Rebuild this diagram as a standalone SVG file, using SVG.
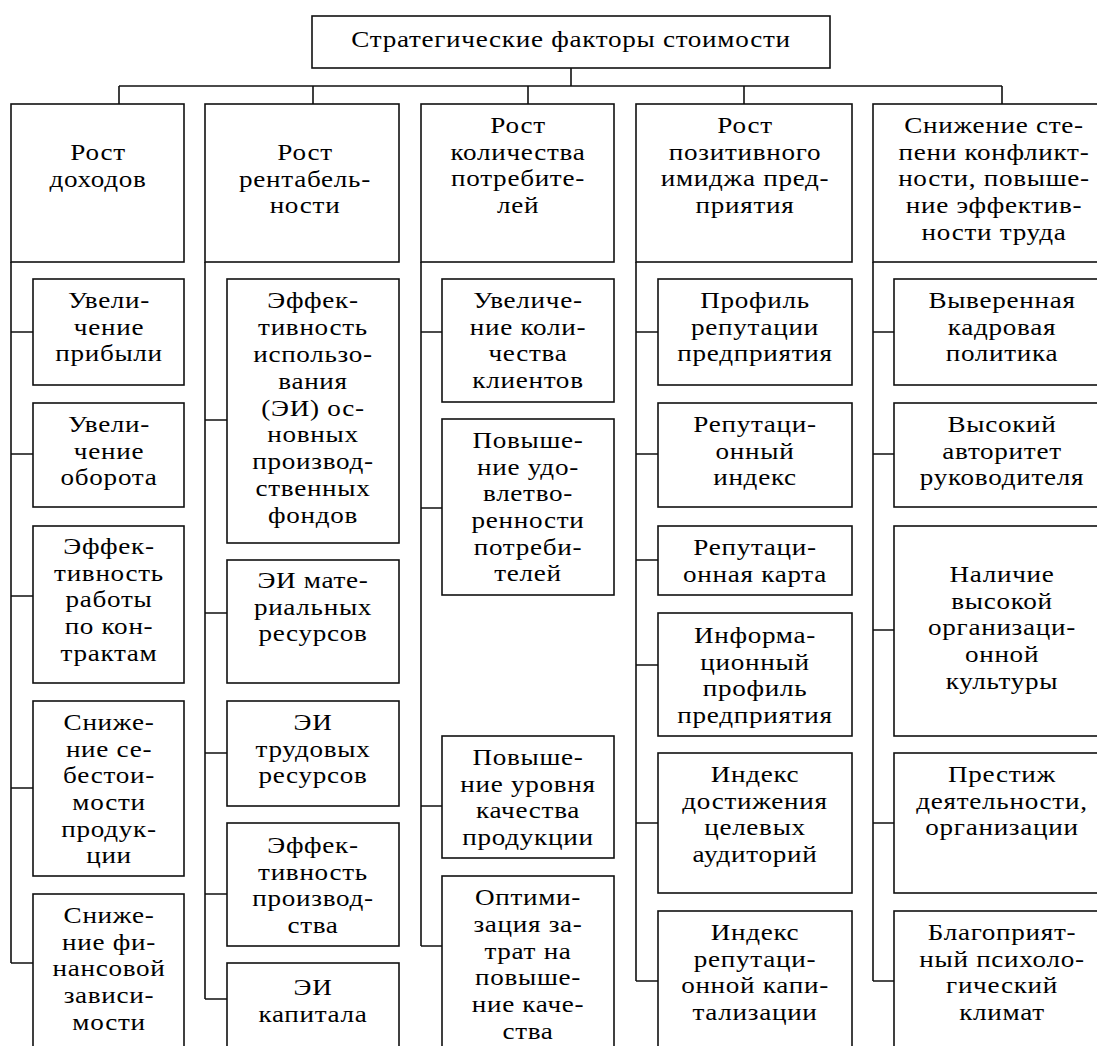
<svg xmlns="http://www.w3.org/2000/svg" width="1097" height="1046" viewBox="0 0 1097 1046">
<style>
.box{fill:#fff;stroke:#111;stroke-width:1.6}
.conn{fill:none;stroke:#111;stroke-width:1.6}
text{font-family:"Liberation Serif","Times New Roman",serif;font-size:23px;letter-spacing:0.6px;text-anchor:middle;fill:#000}
</style>
<rect x="0" y="0" width="1097" height="1046" fill="#fff"/>
<g id="connectors">
<path class="conn" d="M571,68V86M119,86H1002M119,86V104M313,86V104M528,86V104M744,86V104M1002,86V104"/>
<path class="conn" d="M11,262V963M11,332H33M11,454H33M11,596H33M11,788H33M11,963H33"/>
<path class="conn" d="M205,262V999M205,420H227M205,613H227M205,753H227M205,894H227M205,999H227"/>
<path class="conn" d="M421,262V946M421,332H442M421,508H442M421,806H442M421,946H442"/>
<path class="conn" d="M636,262V981M636,332H658M636,454H658M636,560H658M636,665H658M636,823H658M636,981H658"/>
<path class="conn" d="M873,262V981M873,332H894M873,454H894M873,630H894M873,823H894M873,981H894"/>
</g>
<g id="root"><rect class="box" x="312" y="16" width="518" height="52"/><text transform="matrix(1.18 0 0 1 571 0)" x="0" y="47">Стратегические факторы стоимости</text></g>
<g id="h1"><rect class="box" x="11" y="104" width="173" height="158"/><text transform="matrix(1.18 0 0 1 98 0)" y="160"><tspan x="0">Рост</tspan><tspan x="0" dy="27">доходов</tspan></text></g>
<g id="h2"><rect class="box" x="205" y="104" width="194" height="158"/><text transform="matrix(1.18 0 0 1 305 0)" y="160"><tspan x="0">Рост</tspan><tspan x="0" dy="26.7">рентабель-</tspan><tspan x="0" dy="26.7">ности</tspan></text></g>
<g id="h3"><rect class="box" x="421" y="104" width="193" height="158"/><text transform="matrix(1.18 0 0 1 518 0)" y="133"><tspan x="0">Рост</tspan><tspan x="0" dy="26.7">количества</tspan><tspan x="0" dy="26.7">потребите-</tspan><tspan x="0" dy="26.7">лей</tspan></text></g>
<g id="h4"><rect class="box" x="636" y="104" width="216" height="158"/><text transform="matrix(1.18 0 0 1 745 0)" y="133"><tspan x="0">Рост</tspan><tspan x="0" dy="26.7">позитивного</tspan><tspan x="0" dy="26.7">имиджа пред-</tspan><tspan x="0" dy="26.7">приятия</tspan></text></g>
<g id="h5"><rect class="box" x="873" y="104" width="240" height="158"/><text transform="matrix(1.18 0 0 1 994 0)" y="133"><tspan x="0">Снижение сте-</tspan><tspan x="0" dy="26.7">пени конфликт-</tspan><tspan x="0" dy="26.7">ности, повыше-</tspan><tspan x="0" dy="26.7">ние эффектив-</tspan><tspan x="0" dy="26.7">ности труда</tspan></text></g>

<g id="c1"><rect class="box" x="33" y="279" width="151" height="106"/><text transform="matrix(1.18 0 0 1 109 0)" y="308"><tspan x="0">Увели-</tspan><tspan x="0" dy="26.7">чение</tspan><tspan x="0" dy="26.7">прибыли</tspan></text></g>
<g id="c2"><rect class="box" x="33" y="403" width="151" height="104"/><text transform="matrix(1.18 0 0 1 109 0)" y="432"><tspan x="0">Увели-</tspan><tspan x="0" dy="26.7">чение</tspan><tspan x="0" dy="26.7">оборота</tspan></text></g>
<g id="c3"><rect class="box" x="33" y="526" width="151" height="157"/><text transform="matrix(1.18 0 0 1 109 0)" y="554"><tspan x="0">Эффек-</tspan><tspan x="0" dy="26.7">тивность</tspan><tspan x="0" dy="26.7">работы</tspan><tspan x="0" dy="26.7">по кон-</tspan><tspan x="0" dy="26.7">трактам</tspan></text></g>
<g id="c4"><rect class="box" x="33" y="701" width="151" height="175"/><text transform="matrix(1.18 0 0 1 109 0)" y="730"><tspan x="0">Сниже-</tspan><tspan x="0" dy="26.7">ние се-</tspan><tspan x="0" dy="26.7">бестои-</tspan><tspan x="0" dy="26.7">мости</tspan><tspan x="0" dy="26.7">продук-</tspan><tspan x="0" dy="26.7">ции</tspan></text></g>
<g id="c5"><rect class="box" x="33" y="894" width="151" height="170"/><text transform="matrix(1.18 0 0 1 109 0)" y="923"><tspan x="0">Сниже-</tspan><tspan x="0" dy="26.7">ние фи-</tspan><tspan x="0" dy="26.7">нансовой</tspan><tspan x="0" dy="26.7">зависи-</tspan><tspan x="0" dy="26.7">мости</tspan></text></g>

<g id="d1"><rect class="box" x="227" y="279" width="172" height="264"/><text transform="matrix(1.18 0 0 1 313 0)" y="308"><tspan x="0">Эффек-</tspan><tspan x="0" dy="26.9">тивность</tspan><tspan x="0" dy="26.9">использо-</tspan><tspan x="0" dy="26.9">вания</tspan><tspan x="0" dy="26.9">(ЭИ) ос-</tspan><tspan x="0" dy="26.9">новных</tspan><tspan x="0" dy="26.9">производ-</tspan><tspan x="0" dy="26.9">ственных</tspan><tspan x="0" dy="26.9">фондов</tspan></text></g>
<g id="d2"><rect class="box" x="227" y="560" width="172" height="123"/><text transform="matrix(1.18 0 0 1 313 0)" y="588"><tspan x="0">ЭИ мате-</tspan><tspan x="0" dy="26.7">риальных</tspan><tspan x="0" dy="26.7">ресурсов</tspan></text></g>
<g id="d3"><rect class="box" x="227" y="701" width="172" height="105"/><text transform="matrix(1.18 0 0 1 313 0)" y="730"><tspan x="0">ЭИ</tspan><tspan x="0" dy="26.7">трудовых</tspan><tspan x="0" dy="26.7">ресурсов</tspan></text></g>
<g id="d4"><rect class="box" x="227" y="823" width="172" height="123"/><text transform="matrix(1.18 0 0 1 313 0)" y="853"><tspan x="0">Эффек-</tspan><tspan x="0" dy="26.7">тивность</tspan><tspan x="0" dy="26.7">производ-</tspan><tspan x="0" dy="26.7">ства</tspan></text></g>
<g id="d5"><rect class="box" x="227" y="963" width="172" height="100"/><text transform="matrix(1.18 0 0 1 313 0)" y="995"><tspan x="0">ЭИ</tspan><tspan x="0" dy="26.7">капитала</tspan></text></g>

<g id="e1"><rect class="box" x="442" y="279" width="172" height="123"/><text transform="matrix(1.18 0 0 1 528 0)" y="308"><tspan x="0">Увеличе-</tspan><tspan x="0" dy="26.7">ние коли-</tspan><tspan x="0" dy="26.7">чества</tspan><tspan x="0" dy="26.7">клиентов</tspan></text></g>
<g id="e2"><rect class="box" x="442" y="419" width="172" height="176"/><text transform="matrix(1.18 0 0 1 528 0)" y="448"><tspan x="0">Повыше-</tspan><tspan x="0" dy="26.7">ние удо-</tspan><tspan x="0" dy="26.7">влетво-</tspan><tspan x="0" dy="26.7">ренности</tspan><tspan x="0" dy="26.7">потреби-</tspan><tspan x="0" dy="26.7">телей</tspan></text></g>
<g id="e3"><rect class="box" x="442" y="736" width="172" height="122"/><text transform="matrix(1.18 0 0 1 528 0)" y="765"><tspan x="0">Повыше-</tspan><tspan x="0" dy="26.7">ние уровня</tspan><tspan x="0" dy="26.7">качества</tspan><tspan x="0" dy="26.7">продукции</tspan></text></g>
<g id="e4"><rect class="box" x="442" y="876" width="172" height="190"/><text transform="matrix(1.18 0 0 1 528 0)" y="905"><tspan x="0">Оптими-</tspan><tspan x="0" dy="26.8">зация за-</tspan><tspan x="0" dy="26.8">трат на</tspan><tspan x="0" dy="26.8">повыше-</tspan><tspan x="0" dy="26.8">ние каче-</tspan><tspan x="0" dy="26.8">ства</tspan></text></g>

<g id="f1"><rect class="box" x="658" y="279" width="194" height="106"/><text transform="matrix(1.18 0 0 1 755 0)" y="308"><tspan x="0">Профиль</tspan><tspan x="0" dy="26.7">репутации</tspan><tspan x="0" dy="26.7">предприятия</tspan></text></g>
<g id="f2"><rect class="box" x="658" y="403" width="194" height="104"/><text transform="matrix(1.18 0 0 1 755 0)" y="432"><tspan x="0">Репутаци-</tspan><tspan x="0" dy="26.7">онный</tspan><tspan x="0" dy="26.7">индекс</tspan></text></g>
<g id="f3"><rect class="box" x="658" y="526" width="194" height="69"/><text transform="matrix(1.18 0 0 1 755 0)" y="555"><tspan x="0">Репутаци-</tspan><tspan x="0" dy="26.7">онная карта</tspan></text></g>
<g id="f4"><rect class="box" x="658" y="613" width="194" height="123"/><text transform="matrix(1.18 0 0 1 755 0)" y="643"><tspan x="0">Информа-</tspan><tspan x="0" dy="26.7">ционный</tspan><tspan x="0" dy="26.7">профиль</tspan><tspan x="0" dy="26.7">предприятия</tspan></text></g>
<g id="f5"><rect class="box" x="658" y="753" width="194" height="140"/><text transform="matrix(1.18 0 0 1 755 0)" y="782"><tspan x="0">Индекс</tspan><tspan x="0" dy="26.7">достижения</tspan><tspan x="0" dy="26.7">целевых</tspan><tspan x="0" dy="26.7">аудиторий</tspan></text></g>
<g id="f6"><rect class="box" x="658" y="911" width="194" height="150"/><text transform="matrix(1.18 0 0 1 755 0)" y="940"><tspan x="0">Индекс</tspan><tspan x="0" dy="26.7">репутаци-</tspan><tspan x="0" dy="26.7">онной капи-</tspan><tspan x="0" dy="26.7">тализации</tspan></text></g>

<g id="g1"><rect class="box" x="894" y="279" width="220" height="106"/><text transform="matrix(1.18 0 0 1 1002 0)" y="308"><tspan x="0">Выверенная</tspan><tspan x="0" dy="26.7">кадровая</tspan><tspan x="0" dy="26.7">политика</tspan></text></g>
<g id="g2"><rect class="box" x="894" y="403" width="220" height="104"/><text transform="matrix(1.18 0 0 1 1002 0)" y="432"><tspan x="0">Высокий</tspan><tspan x="0" dy="26.7">авторитет</tspan><tspan x="0" dy="26.7">руководителя</tspan></text></g>
<g id="g3"><rect class="box" x="894" y="526" width="220" height="210"/><text transform="matrix(1.18 0 0 1 1002 0)" y="582"><tspan x="0">Наличие</tspan><tspan x="0" dy="26.7">высокой</tspan><tspan x="0" dy="26.7">организаци-</tspan><tspan x="0" dy="26.7">онной</tspan><tspan x="0" dy="26.7">культуры</tspan></text></g>
<g id="g4"><rect class="box" x="894" y="753" width="220" height="140"/><text transform="matrix(1.18 0 0 1 1002 0)" y="782"><tspan x="0">Престиж</tspan><tspan x="0" dy="26.7">деятельности,</tspan><tspan x="0" dy="26.7">организации</tspan></text></g>
<g id="g5"><rect class="box" x="894" y="911" width="220" height="150"/><text transform="matrix(1.18 0 0 1 1002 0)" y="940"><tspan x="0">Благоприят-</tspan><tspan x="0" dy="26.7">ный психоло-</tspan><tspan x="0" dy="26.7">гический</tspan><tspan x="0" dy="26.7">климат</tspan></text></g>
</svg>
